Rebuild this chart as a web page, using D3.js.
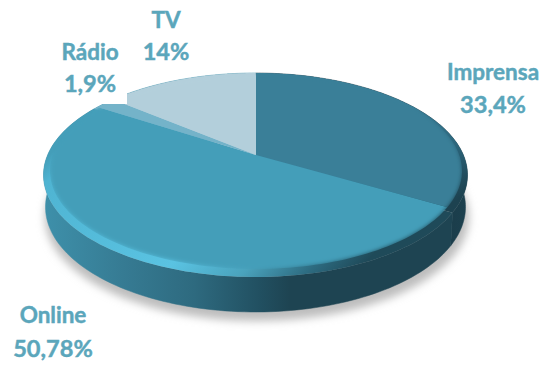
<!DOCTYPE html>
<html>
<head>
<meta charset="utf-8">
<script src="https://cdn.jsdelivr.net/npm/d3@7/dist/d3.min.js"></script>
<style>
html,body{margin:0;padding:0;background:#fff;}
svg{display:block;}
text{font-family:Lato,"Open Sans",sans-serif;font-weight:700;fill:#5ba6bb;stroke:#5ba6bb;stroke-width:0.45px;text-anchor:middle;font-size:22.5px;}
text.share{font-size:23.6px;}
</style>
</head>
<body>
<svg id="chart" width="549" height="365"></svg>
<script>
const categories = ["Imprensa", "Online", "Rádio", "TV"];
const values = [33.4, 50.78, 1.9, 14];
const valueLabels = ["33,4%", "50,78%", "1,9%", "14%"];
const faceColors = ["#3a7f98", "#449eb9", "#74b3c9", "#b3cfdb"];
const labelCenters = [[493, 80, 113], [53, 323, 357], [90, 60, 92], [166, 28, 60]];

const svg = d3.select("#chart");
const defs = svg.append("defs");

// Tilted disc: a homography of the unit circle, with the hub off the ellipse centre
const hub = [256, 155], faceTop = 73, faceBottom = 269, faceRx = 206;
const c = (faceTop + faceBottom - 2 * hub[1]) / (faceBottom - faceTop);
const a = faceTop * (1 + c) - hub[1];
const R = faceRx * Math.sqrt(1 - c * c);
const facePoint = t => {
  const u = Math.sin(t), v = Math.cos(t), w = 1 + c * v;
  return [hub[0] + R * u / w, (a * v + hub[1]) / w];
};
// Outer rim and lower wall edge are rescaled copies of the face outline
const refit = (cx, cy, rx, ry) => ([x, y]) => [
  cx + (x - hub[0]) * rx / faceRx,
  cy + (y - (faceTop + faceBottom) / 2) * ry / ((faceBottom - faceTop) / 2)
];
const toRim = refit(255.5, 175, 212, 102);
const rimPoint = t => toRim(facePoint(t));
const wallPoint = t => refit(255.5, 207, 210, 105)(facePoint(t));
const shadowPoint = t => refit(257, 217, 212, 104)(facePoint(t));

const arcs = d3.pie().sort(null).value(d => d)(values);
const line = d3.line().curve(d3.curveLinear);
const sweep = (s, e) => d3.range(0, 121).map(i => s + (e - s) * i / 120);
const wedge = (d, pt, apex) => line([apex, ...sweep(d.startAngle, d.endAngle).map(pt)]) + "Z";
const band = (d, p, q) => {
  const ts = sweep(d.startAngle, d.endAngle);
  return line([...ts.map(p), ...ts.slice().reverse().map(q)]) + "Z";
};
const whole = pt => line(sweep(0, 2 * Math.PI).map(pt)) + "Z";

function gradient(id, x1, y1, x2, y2, stops) {
  const g = defs.append("linearGradient").attr("id", id)
    .attr("gradientUnits", "userSpaceOnUse")
    .attr("x1", x1).attr("y1", y1).attr("x2", x2).attr("y2", y2);
  stops.forEach(([o, col]) => g.append("stop").attr("offset", o).attr("stop-color", col));
}
gradient("wallOnline", 44, 0, 440, 0, [[0, "#3e90aa"], [0.2, "#367b93"], [0.38, "#2e6a7f"], [0.55, "#214f60"], [0.62, "#1e4452"], [1, "#1e4452"]]);
gradient("wallPrint", 436, 0, 467, 0, [[0, "#1a3b48"], [1, "#1c404e"]]);
// The rim catches light at the lower left and falls into shade towards the lower right
gradient("rimOnline", 70, 110, 470, 510, [[0, "#449eb9"], [0.03, "#449eb9"], [0.06, "#4fb4d2"], [0.32, "#5ac3e2"], [0.42, "#4aa3bd"], [0.5, "#2d6b80"], [0.56, "#1f4a59"], [1, "#1f4a59"]]);
gradient("rimPrint", 410, 110, 470, 190, [[0, "#3a7f98"], [0.55, "#2c667c"], [1, "#1d4250"]]);

defs.append("filter").attr("id", "soft").attr("x", "-10%").attr("y", "-10%").attr("width", "120%").attr("height", "120%")
  .append("feGaussianBlur").attr("stdDeviation", 4);
defs.append("filter").attr("id", "edge").attr("x", "-5%").attr("y", "-5%").attr("width", "110%").attr("height", "110%")
  .append("feGaussianBlur").attr("stdDeviation", 2.2);
defs.append("mask").attr("id", "faceMask").attr("maskUnits", "userSpaceOnUse")
  .attr("x", 0).attr("y", 0).attr("width", 549).attr("height", 365)
  .append("path").attr("d", whole(facePoint)).attr("fill", "#fff").attr("filter", "url(#edge)");

// Drop shadow under the disc
svg.append("path")
  .attr("d", whole(shadowPoint))
  .attr("fill", "#bdbdbd").attr("filter", "url(#soft)");

// Side wall
const wallFill = ["url(#wallPrint)", "url(#wallOnline)", "#3e90aa", "#3e90aa"];
svg.append("g").selectAll("path").data(arcs).join("path")
  .attr("d", d => band(d, rimPoint, wallPoint))
  .attr("fill", (d, i) => wallFill[i])
  .attr("stroke", (d, i) => wallFill[i])
  .attr("stroke-width", 0.5);

// Bevelled rim of the top surface
const rimFill = ["url(#rimPrint)", "url(#rimOnline)", faceColors[2], faceColors[3]];
svg.append("g").selectAll("path").data(arcs).join("path")
  .attr("d", d => wedge(d, rimPoint, toRim(hub)))
  .attr("fill", (d, i) => rimFill[i]);

// Flat top surface
svg.append("g").attr("mask", "url(#faceMask)").selectAll("path").data(arcs).join("path")
  .attr("d", d => wedge(d, facePoint, hub))
  .attr("fill", (d, i) => faceColors[i]);

// White backing of the Rádio label, which overlaps the disc edge
svg.append("rect").attr("x", 40).attr("y", 40).attr("width", 87).attr("height", 64).attr("fill", "#fff");

// Category and share labels
const labels = svg.append("g").selectAll("g").data(categories).join("g");
labels.append("text").attr("x", (d, i) => labelCenters[i][0]).attr("y", (d, i) => labelCenters[i][1]).text(d => d);
labels.append("text").attr("class", "share").attr("x", (d, i) => labelCenters[i][0]).attr("y", (d, i) => labelCenters[i][2]).text((d, i) => valueLabels[i]);
</script>
</body>
</html>
